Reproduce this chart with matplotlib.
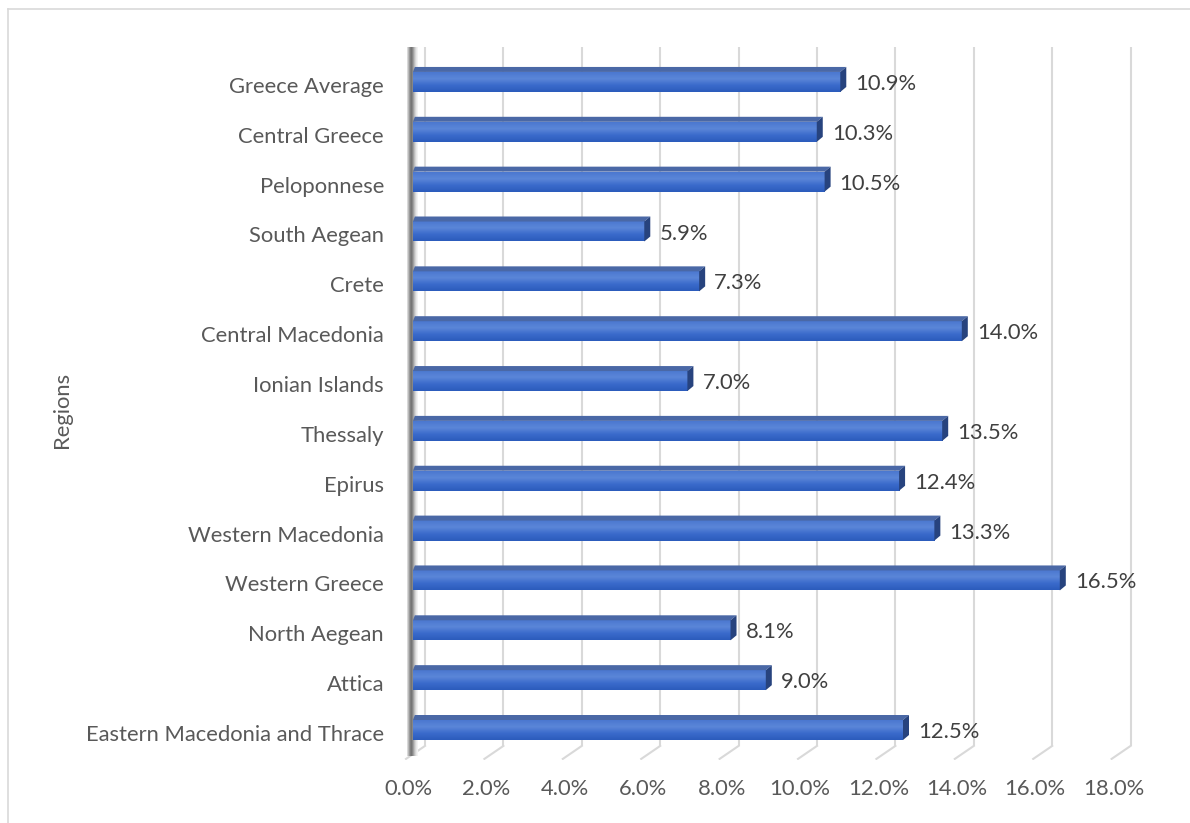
import numpy as np
import matplotlib
matplotlib.use("Agg")
import matplotlib.pyplot as plt
from matplotlib.patches import Polygon
from matplotlib.lines import Line2D
from matplotlib.colors import LinearSegmentedColormap

plt.rcParams['font.family'] = ['Lato', 'DejaVu Sans']

# data, bottom to top as drawn
regions = ['Eastern Macedonia and Thrace', 'Attica', 'North Aegean', 'Western Greece',
           'Western Macedonia', 'Epirus', 'Thessaly', 'Ionian Islands', 'Central Macedonia',
           'Crete', 'South Aegean', 'Peloponnese', 'Central Greece', 'Greece Average']
values = [12.5, 9.0, 8.1, 16.5, 13.3, 12.4, 13.5, 7.0, 14.0, 7.3, 5.9, 10.5, 10.3, 10.9]
xticks = [0, 2, 4, 6, 8, 10, 12, 14, 16, 18]

W, H = 1190, 823
fig = plt.figure(figsize=(W / 100, H / 100), dpi=100)

# pixel layout of the plot area
px_per_x = 39.2
px_per_y = 49.85
x0_px = 413
xmin, xmax = -0.3, 18.5
ymin, ymax = -0.6, 13.75
left_px = x0_px + xmin * px_per_x
right_px = x0_px + xmax * px_per_x
bottom_px = 730 - ymin * px_per_y
top_px = 730 - ymax * px_per_y
ax = fig.add_axes([left_px / W, 1 - bottom_px / H,
                   (right_px - left_px) / W, (bottom_px - top_px) / H])
ax.set_xlim(xmin, xmax)
ax.set_ylim(ymin, ymax)
ax.axis('off')

grid_col = '#d9d9d9'
text_col = '#595959'
fs = 15.8

# depth offsets in data units
back_dx = 12 / px_per_x
front_dx = -7 / px_per_x
back_y = ymin + 14 / px_per_y
front_y = ymin + 1 / px_per_y

for t in xticks:
    ax.plot([t + back_dx, t + back_dx], [back_y, ymax - 0.05], color=grid_col, lw=1.5,
            solid_capstyle='butt', zorder=1)
    ax.plot([t + back_dx, t + front_dx], [back_y, front_y], color=grid_col, lw=1.5, zorder=1)
    ax.text(t - 5 / px_per_x, ymin - 29 / px_per_y, f'{t:.1f}%', ha='center', va='center',
            fontsize=fs, color=text_col, clip_on=False)

# left wall shading
wall = np.array([[0.85, 0.65, 0.5, 0.45, 0.6, 0.75, 0.88, 0.95]])
ax.imshow(wall, cmap='gray', vmin=0, vmax=1, aspect='auto', interpolation='bilinear',
          extent=[-6 / px_per_x, 5 / px_per_x, back_y - 0.2, ymax - 0.05], zorder=2)

# bars
bar_h = 20 / px_per_y
dx = 6 / px_per_x
dy = 5 / px_per_y
grad = np.linspace(0, 1, 50).reshape(-1, 1)
face_cmap = LinearSegmentedColormap.from_list('face', ['#2c5cbc', '#3a6acb', '#5b86d8', '#4b78d0'])
for i, v in enumerate(values):
    yb = i - bar_h / 2
    yt = i + bar_h / 2
    ax.imshow(grad, cmap=face_cmap, aspect='auto', origin='lower',
              extent=[0, v, yb, yt], zorder=3, interpolation='bilinear')
    ax.add_patch(Polygon([(0, yt), (v, yt), (v + dx, yt + dy), (dx * 0.3, yt + dy)],
                         closed=True, facecolor='#4a68a6', edgecolor='none', zorder=3))
    ax.add_patch(Polygon([(v, yb), (v, yt), (v + dx, yt + dy), (v + dx, yb + dy)],
                         closed=True, facecolor='#27437e', edgecolor='none', zorder=3))
    ax.text(v + dx + 9 / px_per_x, i - 2 / px_per_y, f'{v:.1f}%', ha='left', va='center',
            fontsize=fs, color='#404040', zorder=4)
    ax.text(-29 / px_per_x, i - 5 / px_per_y, regions[i], ha='right', va='center',
            fontsize=fs, color=text_col, clip_on=False)

fig.text(62 / W, 1 - 410 / H, 'Regions', rotation=90, ha='center', va='center',
         fontsize=fs, color=text_col)

# chart area border (top and left visible)
fig.add_artist(Line2D([8 / W, 1], [1 - 9 / H, 1 - 9 / H], color='#d9d9d9', lw=1.2))
fig.add_artist(Line2D([8 / W, 8 / W], [0, 1 - 9 / H], color='#d9d9d9', lw=1.2))

ax.set_ylim(ymin, ymax)
ax.set_xlim(xmin, xmax)
fig.savefig('out.png', dpi=100)
